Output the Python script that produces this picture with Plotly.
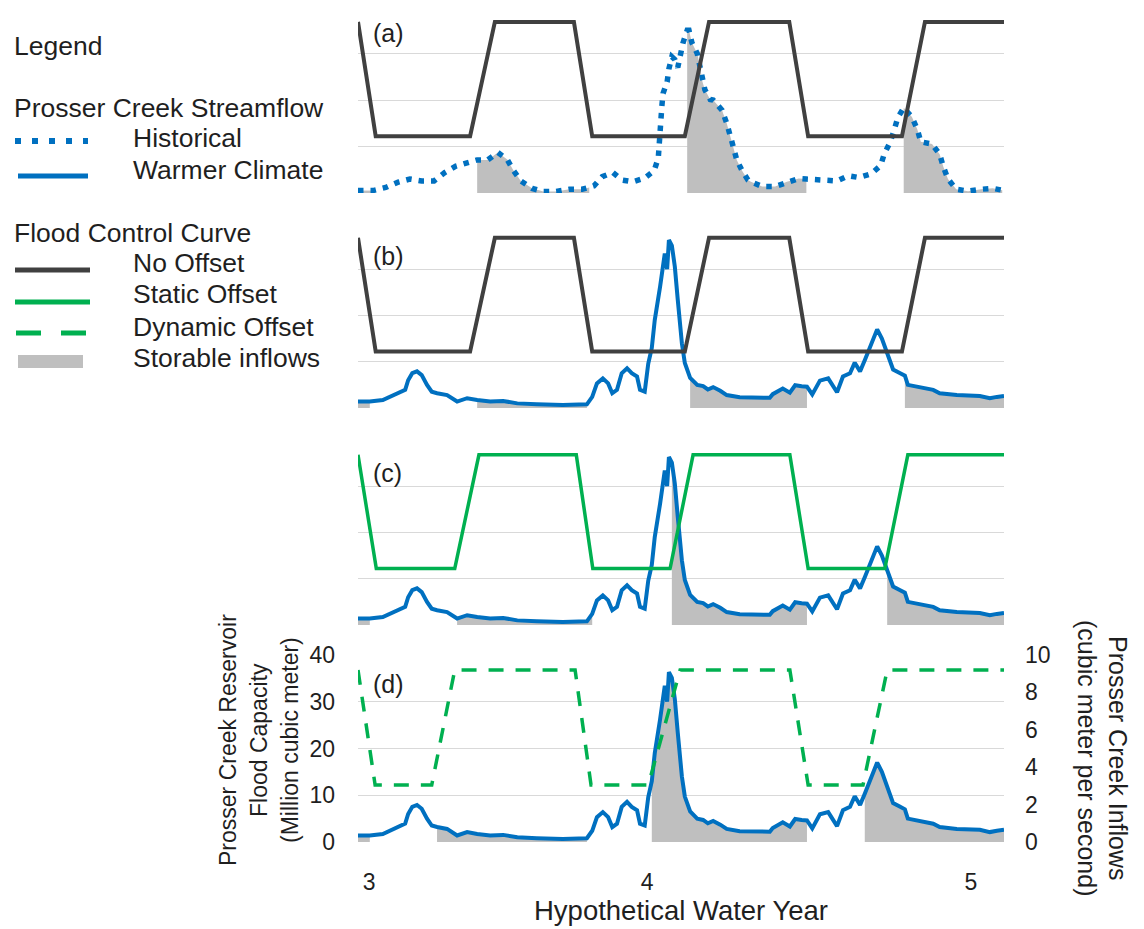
import numpy as np
import plotly.graph_objects as go

# ---------------- data ----------------
# day counted from the left edge of the plotted 3-year window
WARM_DAY = [0, 20, 42, 54, 71, 80, 85, 92, 100, 108, 117, 125, 134, 151, 168, 185, 202, 224, 246, 270,
            303, 347, 388, 397, 405, 415, 424, 431, 439, 447, 456, 464, 473, 478, 486, 492, 498, 503,
            512, 520, 524, 527, 532, 537, 542, 549, 554, 563, 575, 585, 593, 602, 614, 625, 647, 673,
            698, 703, 720, 732, 741, 752, 761, 770, 783, 797, 812, 822, 834, 842, 851, 859, 871, 880, 888,
            897, 902, 907, 919, 927, 932, 948, 958, 975, 986, 1015, 1054, 1071, 1083, 1095]
# Prosser Creek inflow, warmer climate (cubic meter per second)
WARM_CMS = [0.35, 0.35, 0.43, 0.60, 0.83, 0.98, 1.50, 1.88, 1.98, 1.78, 1.25, 0.88, 0.80, 0.70, 0.35,
            0.53, 0.43, 0.35, 0.38, 0.25, 0.20, 0.16, 0.20, 0.60, 1.33, 1.60, 1.33, 0.80, 0.98, 1.88,
            2.15, 1.88, 1.70, 0.98, 0.88, 2.40, 3.25, 4.75, 6.55, 8.35, 7.50, 9.08, 8.78, 7.65, 5.85,
            3.50, 2.43, 1.63, 1.25, 1.18, 1.00, 1.13, 0.93, 0.70, 0.58, 0.58, 0.55, 0.75, 1.05, 0.83,
            1.23, 1.18, 1.15, 0.73, 1.48, 1.60, 0.85, 1.70, 1.88, 2.45, 1.98, 2.58, 3.58, 4.25, 3.75, 3.00,
            2.48, 2.08, 1.88, 1.75, 1.25, 1.15, 1.08, 0.98, 0.80, 0.70, 0.65, 0.53, 0.60, 0.65]

HIST_DAY = [0, 25, 47, 68, 88, 108, 129, 147, 166, 185, 202, 220, 237, 253, 263, 276, 295, 314, 336,
            358, 380, 392, 400, 414, 432, 447, 466, 486, 502, 509, 510, 512, 514, 515, 517, 524, 527, 532,
            537, 542, 551, 558, 561, 566, 575, 580, 583, 588, 597, 602, 617, 625, 636, 642, 651, 661,
            666, 685, 707, 727, 747, 760, 768, 790, 812, 831, 849, 870, 886, 892, 902, 909, 915, 925, 939,
            948, 954, 973, 986, 992, 1000, 1014, 1034, 1056, 1076, 1092]
# Prosser Creek inflow, historical (cubic meter per second)
HIST_CMS = [0.13, 0.13, 0.30, 0.58, 0.75, 0.65, 0.65, 1.10, 1.45, 1.65, 1.78, 1.78, 2.18, 1.80, 1.23,
            0.65, 0.25, 0.08, 0.08, 0.20, 0.20, 0.30, 0.38, 0.88, 1.10, 0.70, 0.60, 0.80, 1.20, 1.88, 2.60,
            3.25, 3.95, 4.65, 5.35, 5.98, 6.68, 7.33, 7.18, 6.75, 8.08, 8.75, 8.75, 8.08, 7.50, 6.80,
            6.08, 5.55, 5.03, 5.00, 4.45, 3.75, 2.50, 1.78, 1.20, 0.70, 0.60, 0.35, 0.35, 0.60, 0.78,
            0.75, 0.73, 0.70, 0.65, 0.93, 0.83, 1.03, 1.48, 2.10, 2.73, 3.40, 4.05, 4.58, 4.08, 3.43, 2.75,
            2.63, 2.08, 1.43, 0.75, 0.20, 0.10, 0.20, 0.25, 0.15]

# flood control curves (million cubic meter)
NO_OFFSET_DAY = [0, 30, 190, 232, 366, 397, 554, 595, 731, 763, 922, 961, 1095]
NO_OFFSET_MCM = [36.8, 12.2, 12.2, 36.8, 36.8, 12.2, 12.2, 36.8, 36.8, 12.2, 12.2, 36.8, 36.8]
STATIC_DAY = [0, 31, 164, 205, 370, 398, 529, 568, 732, 763, 893, 932, 1095]
STATIC_MCM = [36.8, 12.2, 12.2, 36.8, 36.8, 12.2, 12.2, 36.8, 36.8, 12.2, 12.2, 36.8, 36.8]
DYNAMIC_DAY = [0, 29, 125, 164, 368, 395, 492, 546, 732, 763, 856, 897, 1095]
DYNAMIC_MCM = [36.8, 12.2, 12.2, 36.8, 36.8, 12.2, 12.2, 36.8, 36.8, 12.2, 12.2, 36.8, 36.8]

X_TICK_DAY = [19, 490, 1039]
X_TICK_TEXT = ["3", "4", "5"]
PANEL_TAGS = ["(a)", "(b)", "(c)", "(d)"]

# ---------------- style ----------------
W, H = 1144, 929
FONT = "Arial, 'Liberation Sans', sans-serif"
TXT = "#1f1f1f"
BLUE = "#0070C0"
BLACK = "#404040"
GREEN = "#00B050"
GREY = "#BFBFBF"
GRID = "#D9D9D9"


def pxx(x):
    return x / W


def pxy(y):
    return 1 - y / H


def storable_segments(flow_day, flow, curve_day, curve_val):
    """Runs of inflow samples that fall while the curve is above its winter minimum."""
    c = np.interp(flow_day, curve_day, curve_val)
    low = min(curve_val)
    segs, cur = [], None
    for d, f, cv in zip(flow_day, flow, c):
        if cv > low + 1e-6:
            if cur is None:
                cur = ([], [])
            cur[0].append(d)
            cur[1].append(f)
        elif cur is not None:
            segs.append(cur)
            cur = None
    if cur is not None:
        segs.append(cur)
    return segs


X_DOM = [pxx(358), pxx(1004)]
Y_PIX = [(7, 193), (223, 408), (440, 625), (655, 842)]

panels = [
    dict(fd=HIST_DAY, fv=HIST_CMS, cd=NO_OFFSET_DAY, cv=NO_OFFSET_MCM,
         fline=dict(color=BLUE, width=5.5, dash="5.5px,7px"),
         cline=dict(color=BLACK, width=4), fname="Historical", cname="No Offset"),
    dict(fd=WARM_DAY, fv=WARM_CMS, cd=NO_OFFSET_DAY, cv=NO_OFFSET_MCM,
         fline=dict(color=BLUE, width=4), cline=dict(color=BLACK, width=4),
         fname="Warmer Climate", cname="No Offset"),
    dict(fd=WARM_DAY, fv=WARM_CMS, cd=STATIC_DAY, cv=STATIC_MCM,
         fline=dict(color=BLUE, width=4), cline=dict(color=GREEN, width=3.5),
         fname="Warmer Climate", cname="Static Offset"),
    dict(fd=WARM_DAY, fv=WARM_CMS, cd=DYNAMIC_DAY, cv=DYNAMIC_MCM,
         fline=dict(color=BLUE, width=4), cline=dict(color=GREEN, width=3.5, dash="15px,12px"),
         fname="Warmer Climate", cname="Dynamic Offset"),
]

fig = go.Figure()
layout = {}
for i, p in enumerate(panels, start=1):
    xa = "x" if i == 1 else f"x{i}"
    ya = "y" if i == 1 else f"y{i}"
    yo = f"y{i + 4}"
    for sx, sy in storable_segments(p["fd"], p["fv"], p["cd"], p["cv"]):
        fig.add_trace(go.Scatter(x=sx, y=sy, mode="lines", line=dict(width=0, color=GREY),
                                 fill="tozeroy", fillcolor=GREY, xaxis=xa, yaxis=ya,
                                 name="Storable inflows", showlegend=False, hoverinfo="skip"))
    fig.add_trace(go.Scatter(x=p["fd"], y=p["fv"], mode="lines", line=p["fline"],
                             xaxis=xa, yaxis=ya, name=p["fname"], showlegend=False))
    fig.add_trace(go.Scatter(x=p["cd"], y=p["cv"], mode="lines", line=p["cline"],
                             xaxis=xa, yaxis=yo, name=p["cname"], showlegend=False))

    top, bot = Y_PIX[i - 1]
    ydom = [pxy(bot), pxy(top)]
    last = i == 4
    layout["xaxis" if i == 1 else f"xaxis{i}"] = dict(
        domain=X_DOM, range=[0, 1095], anchor=ya, showgrid=False, zeroline=False,
        showline=False, ticks="", showticklabels=last,
        tickvals=X_TICK_DAY if last else None, ticktext=X_TICK_TEXT if last else None,
        ticklabelstandoff=24, tickfont=dict(size=23, color=TXT, family=FONT),
        title=dict(text="Hypothetical Water Year" if last else "", standoff=3,
                   font=dict(size=27.5, color=TXT, family=FONT)),
        automargin=False)
    layout["yaxis" if i == 1 else f"yaxis{i}"] = dict(
        domain=ydom, range=[0, 10], anchor=xa, side="right", showgrid=False,
        zeroline=False, showline=False, ticks="", showticklabels=last,
        tickvals=[0, 2, 4, 6, 8, 10], ticklabelstandoff=20,
        tickfont=dict(size=23, color=TXT, family=FONT), automargin=False)
    layout[f"yaxis{i + 4}"] = dict(
        overlaying=ya, anchor=xa, range=[0, 40], side="left", showgrid=True,
        gridcolor=GRID, gridwidth=1.3, zeroline=False, showline=False, ticks="",
        tickvals=[0, 10, 20, 30, 40], showticklabels=last, ticklabelstandoff=22,
        tickfont=dict(size=23, color=TXT, family=FONT), automargin=False)

annotations = []
for i, tag in enumerate(PANEL_TAGS):
    cy = [33, 256, 473, 684][i]
    annotations.append(dict(text=tag, x=pxx(371), y=pxy(cy), xref="paper", yref="paper",
                            xanchor="left", yanchor="middle", showarrow=False,
                            font=dict(size=25, color=TXT, family=FONT)))

for line, cx in [("Prosser Creek Reservoir", 228), ("Flood Capacity", 259), ("(Million cubic meter)", 290)]:
    annotations.append(dict(text=line, textangle=-90, x=pxx(cx), y=pxy(740), xref="paper",
                            yref="paper", xanchor="center", yanchor="middle", showarrow=False,
                            font=dict(size=23, color=TXT, family=FONT)))
for line, cx in [("Prosser Creek Inflows", 1118), ("(cubic meter per second)", 1087)]:
    annotations.append(dict(text=line, textangle=90, x=pxx(cx), y=pxy(758), xref="paper",
                            yref="paper", xanchor="center", yanchor="middle", showarrow=False,
                            font=dict(size=25, color=TXT, family=FONT)))

# legend (drawn by hand to follow the original layout)
legend_text = [("Legend", 12, 46), ("Prosser Creek Streamflow", 12, 108), ("Historical", 131, 138),
               ("Warmer Climate", 131, 170), ("Flood Control Curve", 12, 233), ("No Offset", 131, 263),
               ("Static Offset", 131, 294), ("Dynamic Offset", 131, 327), ("Storable inflows", 131, 358)]
for t, x, y in legend_text:
    annotations.append(dict(text=t, x=pxx(x), y=pxy(y), xref="paper", yref="paper",
                            xanchor="left", yanchor="middle", showarrow=False,
                            font=dict(size=26.5, color=TXT, family=FONT)))

shapes = [
    dict(type="line", xref="paper", yref="paper", x0=pxx(15), x1=pxx(88), y0=pxy(141), y1=pxy(141),
         line=dict(color=BLUE, width=6, dash="6px,11px")),
    dict(type="line", xref="paper", yref="paper", x0=pxx(18), x1=pxx(88), y0=pxy(176), y1=pxy(176),
         line=dict(color=BLUE, width=5)),
    dict(type="line", xref="paper", yref="paper", x0=pxx(15), x1=pxx(90), y0=pxy(270), y1=pxy(270),
         line=dict(color=BLACK, width=5)),
    dict(type="line", xref="paper", yref="paper", x0=pxx(15), x1=pxx(90), y0=pxy(302), y1=pxy(302),
         line=dict(color=GREEN, width=5)),
    dict(type="line", xref="paper", yref="paper", x0=pxx(16), x1=pxx(86), y0=pxy(333), y1=pxy(333),
         line=dict(color=GREEN, width=5, dash="25px,20px")),
    dict(type="rect", xref="paper", yref="paper", x0=pxx(18), x1=pxx(83), y0=pxy(368), y1=pxy(355),
         line=dict(width=0), fillcolor=GREY),
]

fig.update_layout(
    width=W, height=H, template="none",
    margin=dict(l=0, r=0, t=0, b=0, pad=0),
    paper_bgcolor="white", plot_bgcolor="rgba(0,0,0,0)",
    showlegend=False, font=dict(family=FONT, color=TXT),
    annotations=annotations, shapes=shapes, **layout)

fig.write_html("out.html", config={"displayModeBar": False},
               post_script="document.body.style.margin='0';document.body.style.overflow='hidden';")
